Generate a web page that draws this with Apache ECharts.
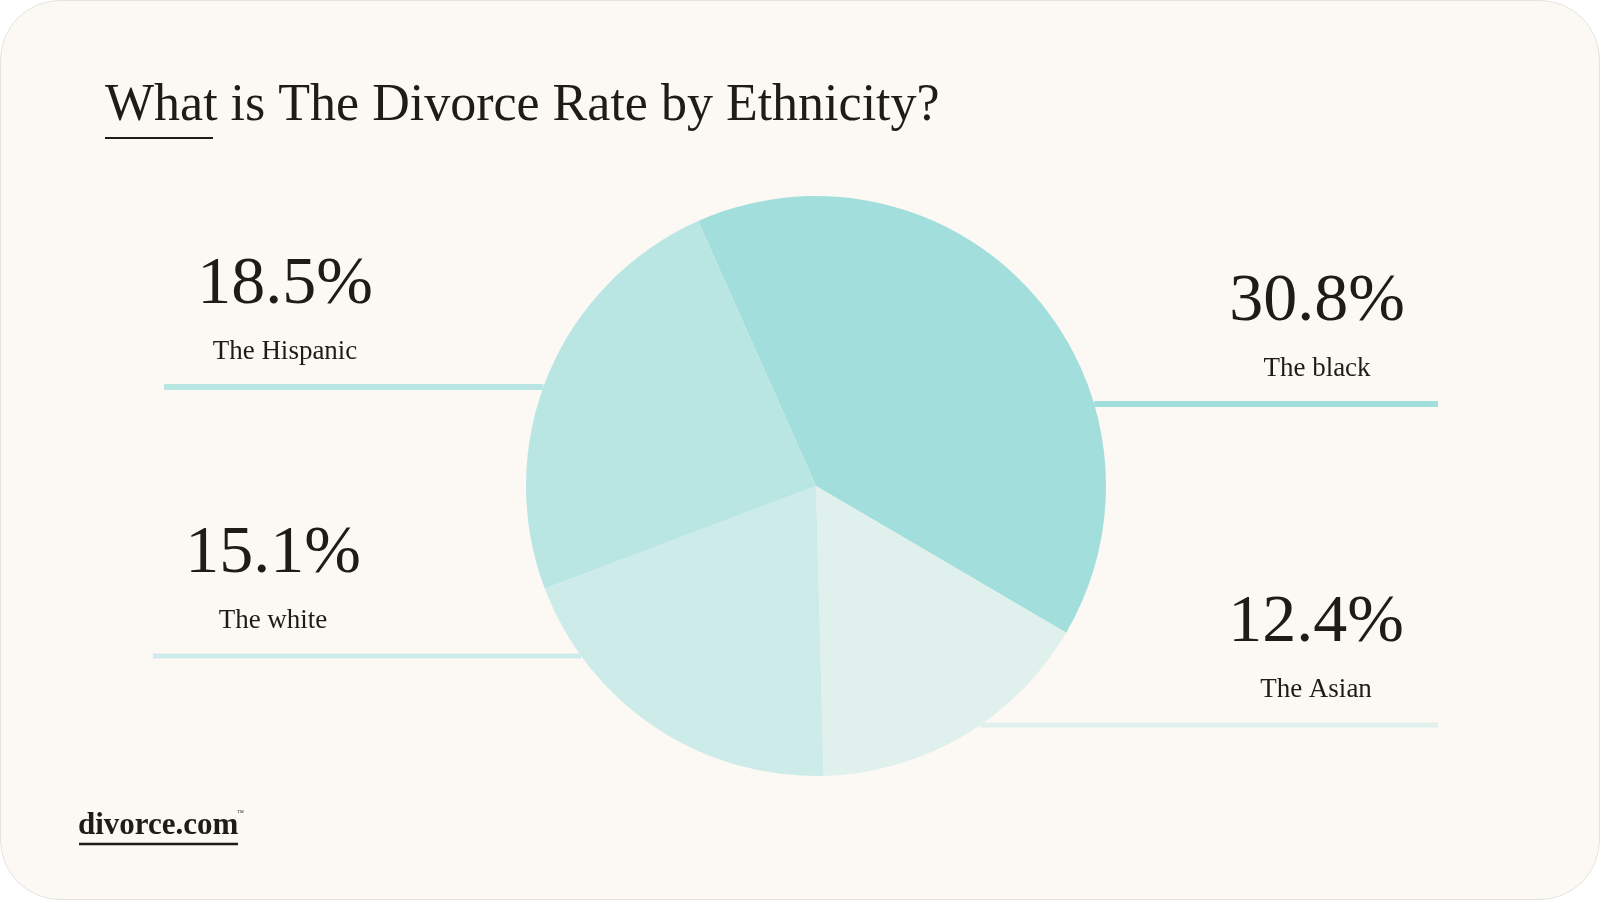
<!DOCTYPE html>
<html>
<head>
<meta charset="utf-8">
<script src="https://cdn.jsdelivr.net/npm/echarts@6/dist/echarts.min.js"></script>
<style>
  html, body { margin: 0; padding: 0; background: #ffffff; }
  #card { position: absolute; left: 0; top: 0; width: 1598px; height: 898px;
          border: 1px solid #e3e5de; border-radius: 60px; background: #fcf9f4; overflow: hidden; }
  #chart { width: 1598px; height: 898px; }
</style>
</head>
<body>
<div id="card"><div id="chart"></div></div>
<script>
// ---- data ----
const categories = ['The black', 'The Asian', 'The white', 'The Hispanic'];
const rates = [30.8, 12.4, 15.1, 18.5];
const titleText = 'What is The Divorce Rate by Ethnicity?';
const brandText = 'divorce.com';

// ---- styles / layout ----
const sliceColors = ['#a2dedc', '#e0f0ec', '#cdebe9', '#b9e5e3'];
const CX = 815, CY = 485, R = 290;
// label anchor (centre x), guide line y, guide line outer end x, side
const labelPlaces = [
  { x: 1316, lineY: 403, outerX: 1437, side: 1 },
  { x: 1315, lineY: 724, outerX: 1437, side: 1 },
  { x: 272,  lineY: 655, outerX: 152,  side: -1 },
  { x: 284,  lineY: 386, outerX: 163,  side: -1 }
];
const lineWidths = [6, 5, 5, 6];
const serif = '"Liberation Serif", "DejaVu Serif", serif';
const ink = '#1e1c19';

const chart = echarts.init(document.getElementById('chart'), null, { renderer: 'canvas' });

const pieData = categories.map((name, i) => ({
  name: name,
  value: rates[i],
  itemStyle: { color: sliceColors[i] },
  labelLine: { lineStyle: { color: sliceColors[i], width: lineWidths[i] } }
}));

chart.setOption({
  animation: false,
  title: {
    text: titleText,
    left: 99,
    top: 74,
    textStyle: { fontFamily: serif, fontSize: 52, fontWeight: 'normal', color: ink }
  },
  graphic: [
    { type: 'line', shape: { x1: 104, y1: 137, x2: 212, y2: 137 },
      style: { stroke: ink, lineWidth: 2 } },
    { type: 'text', x: 77, y: 825,
      style: { text: brandText, font: 'bold 31px ' + serif, fill: ink,
               textAlign: 'left', textVerticalAlign: 'middle' } },
    { type: 'text', x: 236, y: 812,
      style: { text: '™', font: '7px ' + serif, fill: ink, textAlign: 'left', textVerticalAlign: 'middle' } },
    { type: 'line', shape: { x1: 78, y1: 843, x2: 237, y2: 843 },
      style: { stroke: ink, lineWidth: 2.5 } }
  ],
  series: [{
    type: 'pie',
    center: [CX, CY],
    radius: [0, R],
    startAngle: 114,
    clockwise: true,
    silent: true,
    emphasis: { disabled: true },
    data: pieData,
    label: {
      show: true,
      position: 'outside',
      formatter: p => '{v|' + p.value + '%}\n{n|' + p.name + '}',
      rich: {
        v: { fontFamily: serif, fontSize: 68, color: ink, lineHeight: 90, align: 'center' },
        n: { fontFamily: serif, fontSize: 27, color: ink, lineHeight: 44, align: 'center' }
      }
    },
    labelLine: { show: true, smooth: false, length: 10, length2: 10 },
    labelLayout: function (params) {
      const lp = labelPlaces[params.dataIndex];
      const dy = lp.lineY - CY;
      const edgeX = CX + lp.side * Math.sqrt(R * R - dy * dy);
      return {
        x: lp.x,
        y: lp.lineY - 147,
        align: 'center',
        verticalAlign: 'top',
        labelLinePoints: [[edgeX, lp.lineY], [(edgeX + lp.outerX) / 2, lp.lineY], [lp.outerX, lp.lineY]]
      };
    }
  }]
});
</script>
</body>
</html>
